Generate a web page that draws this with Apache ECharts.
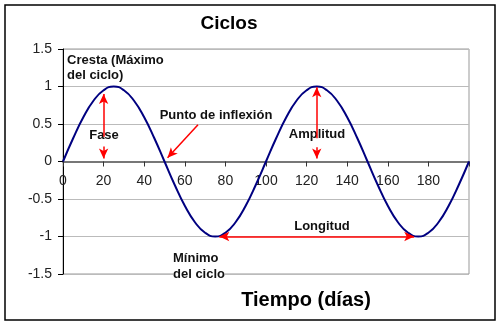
<!DOCTYPE html>
<html>
<head>
<meta charset="utf-8">
<script src="https://cdn.jsdelivr.net/npm/echarts@6/dist/echarts.min.js"></script>
<style>
  html, body { margin: 0; padding: 0; background: #fff; }
  #chart { width: 500px; height: 325px; }
</style>
</head>
<body>
<div id="chart"></div>
<script>
var dias = [0, 5, 10, 15, 20, 25, 30, 35, 40, 45, 50, 55, 60, 65, 70, 75, 80, 85, 90, 95, 100,
  105, 110, 115, 120, 125, 130, 135, 140, 145, 150, 155, 160, 165, 170, 175, 180, 185, 190, 195, 200];
var valores = [0, 0.31, 0.59, 0.81, 0.95, 1, 0.95, 0.81, 0.59, 0.31, 0,
  -0.31, -0.59, -0.81, -0.95, -1, -0.95, -0.81, -0.59, -0.31, 0,
  0.31, 0.59, 0.81, 0.95, 1, 0.95, 0.81, 0.59, 0.31, 0,
  -0.31, -0.59, -0.81, -0.95, -1, -0.95, -0.81, -0.59, -0.31, 0];
var xEtiquetas = [0, 20, 40, 60, 80, 100, 120, 140, 160, 180];

// flechas de anotación: [inicio, fin]
var flechaFase = [[20, 0.33], [20, 0.9]];
var flechaFaseAbajo = [[20, 0.2], [20, 0.04]];
var flechaInflexion = [[66.5, 0.49], [51.5, 0.05]];
var flechaAmplitud = [[125, 0.31], [125, 0.99]];
var flechaAmplitudAbajo = [[125, 0.19], [125, 0.04]];
var flechaLongitud = [[77, -1], [173, -1]];

var fuente = "'Liberation Sans', Arial, sans-serif";

function flecha(par, dosPuntas) {
  return [
    { coord: par[0], symbol: dosPuntas ? "arrow" : "none" },
    { coord: par[1], symbol: "arrow" }
  ];
}

var chart = echarts.init(document.getElementById("chart"));
chart.setOption({
  animation: false,
  backgroundColor: "#fff",
  grid: {
    left: 63,
    right: 31,
    top: 49,
    bottom: 51,
    show: true,
    borderColor: "#999",
    borderWidth: 1
  },
  xAxis: {
    type: "value",
    min: 0,
    max: 200,
    interval: 20,
    offset: -112.5,
    axisLine: { onZero: false, lineStyle: { color: "#777", width: 2 } },
    axisTick: { show: true, length: 5, lineStyle: { color: "#333" } },
    axisLabel: {
      margin: 13,
      color: "#222",
      fontSize: 14,
      fontFamily: fuente,
      formatter: function (v) {
        return xEtiquetas.indexOf(v) >= 0 ? String(v) : "";
      }
    },
    splitLine: { show: false }
  },
  yAxis: {
    type: "value",
    min: -1.5,
    max: 1.5,
    interval: 0.5,
    axisLine: { show: true, onZero: false, lineStyle: { color: "#000", width: 1 } },
    axisTick: { show: true, length: 5, lineStyle: { color: "#000" } },
    axisLabel: { margin: 11, color: "#222", fontSize: 14, fontFamily: fuente },
    splitLine: { show: true, lineStyle: { color: "#bbb", width: 1 } }
  },
  series: [
    {
      type: "line",
      data: dias.map(function (d, i) { return [d, valores[i]]; }),
      smooth: true,
      showSymbol: false,
      lineStyle: { color: "#000080", width: 2 },
      markLine: {
        silent: true,
        symbolSize: [7, 10],
        label: { show: false },
        lineStyle: { color: "#ff0000", width: 1.5, type: "solid" },
        data: [
          flecha(flechaFase, false),
          flecha(flechaFaseAbajo, false),
          flecha(flechaInflexion, false),
          flecha(flechaAmplitud, false),
          flecha(flechaAmplitudAbajo, false),
          flecha(flechaLongitud, true)
        ]
      }
    }
  ],
  graphic: [
    {
      type: "rect",
      shape: { x: 5, y: 5, width: 490, height: 315 },
      style: { fill: "none", stroke: "#000", lineWidth: 1.5 },
      silent: true
    },
    {
      type: "text", x: 229, y: 24,
      style: { text: "Ciclos", font: "bold 19px " + fuente, fill: "#000", textAlign: "center", textVerticalAlign: "middle" }
    },
    {
      type: "text", x: 306, y: 300,
      style: { text: "Tiempo (días)", font: "bold 20px " + fuente, fill: "#000", textAlign: "center", textVerticalAlign: "middle" }
    },
    {
      type: "text", x: 67, y: 53,
      style: { text: "Cresta (Máximo\ndel ciclo)", font: "bold 13px " + fuente, lineHeight: 15, fill: "#111" }
    },
    {
      type: "text", x: 104, y: 135,
      style: { text: "Fase", font: "bold 13px " + fuente, fill: "#111", textAlign: "center", textVerticalAlign: "middle" }
    },
    {
      type: "text", x: 216, y: 115,
      style: { text: "Punto de inflexión", font: "bold 13px " + fuente, fill: "#111", textAlign: "center", textVerticalAlign: "middle" }
    },
    {
      type: "text", x: 317, y: 134,
      style: { text: "Amplitud", font: "bold 13px " + fuente, fill: "#111", textAlign: "center", textVerticalAlign: "middle" }
    },
    {
      type: "text", x: 322, y: 226,
      style: { text: "Longitud", font: "bold 13px " + fuente, fill: "#111", textAlign: "center", textVerticalAlign: "middle" }
    },
    {
      type: "text", x: 173, y: 250, z: 10,
      style: { text: "Mínimo\ndel ciclo", font: "bold 13px " + fuente, lineHeight: 16, fill: "#111", backgroundColor: "#fff" }
    }
  ]
});
</script>
</body>
</html>
